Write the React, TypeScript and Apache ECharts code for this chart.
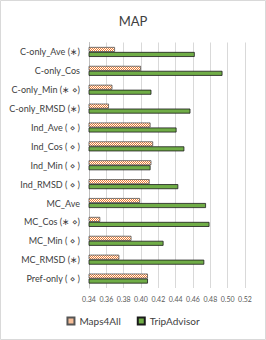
import React, { useEffect, useRef } from "react";
import * as echarts from "echarts";

const categories = [
  "C-only_Ave (∗)",
  "C-only_Cos",
  "C-only_Min (∗ ⋄)",
  "C-only_RMSD (∗)",
  "Ind_Ave ( ⋄ )",
  "Ind_Cos ( ⋄ )",
  "Ind_Min ( ⋄ )",
  "Ind_RMSD ( ⋄ )",
  "MC_Ave",
  "MC_Cos (∗ ⋄)",
  "MC_Min ( ⋄ )",
  "MC_RMSD (∗)",
  "Pref-only ( ⋄ )",
];
const maps4All = [0.370, 0.400, 0.367, 0.363, 0.411, 0.414, 0.412, 0.410, 0.399, 0.353, 0.389, 0.375, 0.408];
const tripAdvisor = [0.462, 0.494, 0.412, 0.457, 0.441, 0.450, 0.411, 0.443, 0.475, 0.479, 0.426, 0.473, 0.408];
const xTicks = { min: 0.34, max: 0.52, interval: 0.02 };

function makeChecker() {
  const c = document.createElement("canvas");
  c.width = 2;
  c.height = 2;
  const ctx = c.getContext("2d")!;
  ctx.fillStyle = "#ffffff";
  ctx.fillRect(0, 0, 2, 2);
  ctx.fillStyle = "#ED7D31";
  ctx.fillRect(0, 0, 1, 1);
  ctx.fillRect(1, 1, 1, 1);
  return c;
}

export default function App() {
  const ref = useRef<HTMLDivElement>(null);
  useEffect(() => {
    document.body.style.margin = "0";
    const chart = echarts.init(ref.current!, undefined, { renderer: "svg" });
    const pattern = { image: makeChecker(), repeat: "repeat" as const };
    const font = "Lato, 'Noto Sans', 'DejaVu Sans', sans-serif";
    chart.setOption({
      animation: false,
      textStyle: { fontFamily: font },
      title: {
        text: "MAP",
        left: "center",
        top: 9,
        textStyle: { fontSize: 13, fontWeight: "normal", color: "#404040", fontFamily: font },
      },
      graphic: [
        {
          type: "rect",
          shape: { x: 0.5, y: 0.5, width: 265, height: 339 },
          style: { fill: "none", stroke: "#d9d9d9", lineWidth: 1 },
          silent: true,
        },
      ],
      legend: {
        bottom: 9,
        left: "center",
        itemWidth: 7,
        itemHeight: 7,
        itemGap: 16,
        icon: "rect",
        textStyle: { fontSize: 10, color: "#404040", fontFamily: font },
        data: ["Maps4All", "TripAdvisor"],
      },
      grid: { left: 89, right: 21, top: 42.5, bottom: 52, containLabel: false },
      xAxis: {
        type: "value",
        min: xTicks.min,
        max: xTicks.max,
        interval: xTicks.interval,
        axisLine: { show: false },
        axisTick: { show: false },
        splitLine: { lineStyle: { color: "#d9d9d9" } },
        axisLabel: {
          fontSize: 7,
          color: "#595959",
          margin: 7,
          formatter: (v: number) => v.toFixed(2),
        },
      },
      yAxis: {
        type: "category",
        data: categories,
        inverse: true,
        axisLine: { lineStyle: { color: "#bfbfbf" } },
        axisTick: { show: false },
        axisLabel: { fontSize: 9, color: "#404040", margin: 9 },
      },
      series: [
        {
          name: "Maps4All",
          type: "bar",
          data: maps4All,
          barWidth: 5,
          barGap: "0%",
          itemStyle: { color: pattern, borderColor: "#555555", borderWidth: 0.8 },
        },
        {
          name: "TripAdvisor",
          type: "bar",
          data: tripAdvisor,
          barWidth: 5,
          barGap: "0%",
          itemStyle: { color: "#70AD47", borderColor: "#1a1a1a", borderWidth: 0.8 },
        },
      ],
    });
    return () => chart.dispose();
  }, []);
  return <div ref={ref} style={{ width: 266, height: 340 }} />;
}
